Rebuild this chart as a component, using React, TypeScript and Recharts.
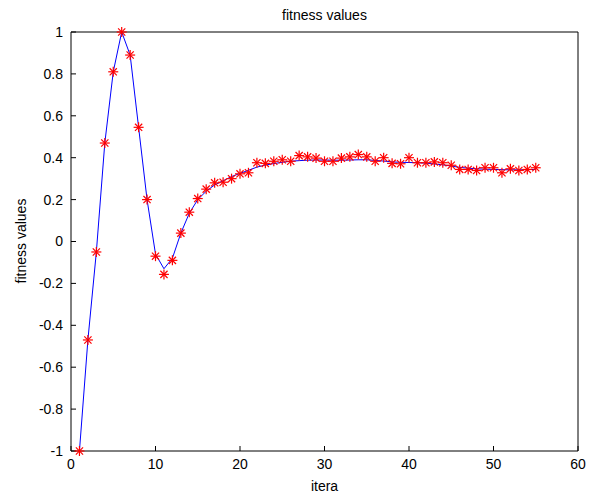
import { ComposedChart, Line, XAxis, YAxis } from 'recharts';

const iterations = [
  1, 2, 3, 4, 5, 6, 7, 8, 9, 10, 11, 12, 13, 14, 15, 16, 17, 18, 19, 20, 21, 22, 23, 24, 25, 26, 27, 28,
  29, 30, 31, 32, 33, 34, 35, 36, 37, 38, 39, 40, 41, 42, 43, 44, 45, 46, 47, 48, 49, 50, 51, 52, 53, 54, 55,
];

// red asterisks
const fitness = [
  -1, -0.47, -0.05, 0.47, 0.81, 1.0, 0.89, 0.545, 0.2, -0.07, -0.157, -0.09, 0.04, 0.14, 0.205, 0.25, 0.28,
  0.283, 0.3, 0.323, 0.328, 0.376, 0.373, 0.383, 0.39, 0.383, 0.41, 0.404, 0.398, 0.383, 0.383, 0.398, 0.404,
  0.415, 0.404, 0.383, 0.4, 0.373, 0.371, 0.4, 0.376, 0.376, 0.38, 0.376, 0.364, 0.344, 0.344, 0.339, 0.352,
  0.352, 0.328, 0.347, 0.339, 0.344, 0.352,
];

// blue curve
const smoothed = [
  -1, -0.47, -0.05, 0.47, 0.81, 1.0, 0.89, 0.545, 0.2, -0.06, -0.13, -0.08, 0.04, 0.135, 0.2, 0.24, 0.27,
  0.29, 0.31, 0.325, 0.34, 0.355, 0.365, 0.372, 0.378, 0.383, 0.386, 0.388, 0.389, 0.389, 0.388, 0.388, 0.389,
  0.39, 0.39, 0.387, 0.384, 0.38, 0.378, 0.377, 0.376, 0.374, 0.37, 0.366, 0.36, 0.354, 0.35, 0.347, 0.345,
  0.344, 0.343, 0.342, 0.342, 0.343, 0.344,
];

const xTicks = [0, 10, 20, 30, 40, 50, 60];
const yTicks = [-1, -0.8, -0.6, -0.4, -0.2, 0, 0.2, 0.4, 0.6, 0.8, 1];

const data = iterations.map((iter, i) => ({ iter, fitness: fitness[i], smoothed: smoothed[i] }));

const FONT = '"Liberation Sans", Arial, sans-serif';
const tickStyle = { fontSize: 14, fill: '#000', fontFamily: FONT };

function Asterisk(props: { cx?: number; cy?: number; index?: number }) {
  const { cx, cy } = props;
  if (cx == null || cy == null) return null;
  const r = 5;
  const d = 3.6;
  return (
    <g stroke="#FF0000" strokeWidth={1.2} key={props.index}>
      <line x1={cx - r} y1={cy} x2={cx + r} y2={cy} />
      <line x1={cx} y1={cy - r} x2={cx} y2={cy + r} />
      <line x1={cx - d} y1={cy - d} x2={cx + d} y2={cy + d} />
      <line x1={cx - d} y1={cy + d} x2={cx + d} y2={cy - d} />
    </g>
  );
}

const labelStyle: React.CSSProperties = {
  position: 'absolute',
  fontFamily: FONT,
  fontSize: 14,
  color: '#000',
  whiteSpace: 'nowrap',
  lineHeight: '16px',
};

export default function App() {
  return (
    <div style={{ position: 'absolute', left: 0, top: 0, width: 592, height: 497, background: '#fff' }}>
      <ComposedChart width={592} height={497} data={data} margin={{ top: 2, right: 4, left: 31, bottom: 16 }}>
        <XAxis
          xAxisId="bottom"
          dataKey="iter"
          type="number"
          domain={[0, 60]}
          ticks={xTicks}
          tick={tickStyle}
          tickSize={-5}
          tickMargin={13}
          height={30}
          stroke="#000"
          axisLine={{ stroke: '#000' }}
          tickLine={{ stroke: '#000' }}
        />
        <XAxis
          xAxisId="top"
          orientation="top"
          dataKey="iter"
          type="number"
          domain={[0, 60]}
          ticks={xTicks}
          tick={false}
          tickSize={-5}
          height={30}
          axisLine={{ stroke: '#000' }}
          tickLine={{ stroke: '#000' }}
        />
        <YAxis
          yAxisId="left"
          type="number"
          domain={[-1, 1]}
          ticks={yTicks}
          tick={tickStyle}
          tickSize={-5}
          tickMargin={13}
          width={40}
          interval={0}
          axisLine={{ stroke: '#000' }}
          tickLine={{ stroke: '#000' }}
        />
        <YAxis
          yAxisId="right"
          orientation="right"
          type="number"
          domain={[-1, 1]}
          ticks={yTicks}
          tick={false}
          tickSize={-5}
          width={10}
          interval={0}
          axisLine={{ stroke: '#000' }}
          tickLine={{ stroke: '#000' }}
        />
        <Line
          xAxisId="top"
          yAxisId="right"
          dataKey="smoothed"
          stroke="none"
          dot={false}
          activeDot={false}
          isAnimationActive={false}
        />
        <Line
          xAxisId="bottom"
          yAxisId="left"
          type="linear"
          dataKey="smoothed"
          stroke="#0000FF"
          strokeWidth={1}
          dot={false}
          activeDot={false}
          isAnimationActive={false}
        />
        <Line
          xAxisId="bottom"
          yAxisId="left"
          type="linear"
          dataKey="fitness"
          stroke="none"
          dot={<Asterisk />}
          activeDot={false}
          isAnimationActive={false}
        />
      </ComposedChart>
      <div style={{ ...labelStyle, left: 0, width: 649, top: 7, textAlign: 'center' }}>fitness values</div>
      <div style={{ ...labelStyle, left: 0, width: 649, top: 478, textAlign: 'center' }}>itera</div>
      <div
        style={{
          ...labelStyle,
          left: 21,
          top: 241,
          transform: 'translate(-50%, -50%) rotate(-90deg)',
        }}
      >
        fitness values
      </div>
    </div>
  );
}
